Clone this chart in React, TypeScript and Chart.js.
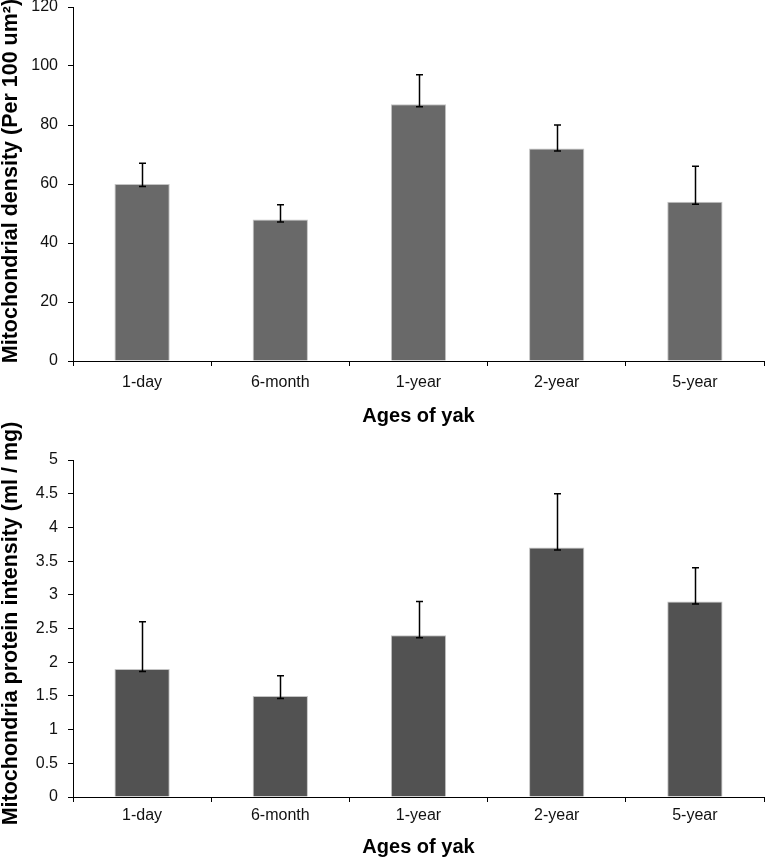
import React, { useEffect, useRef } from "react";
import { Chart, registerables } from "chart.js";

Chart.register(...registerables);

// ---- data ----
const categories = ["1-day", "6-month", "1-year", "2-year", "5-year"];
const densityValues = [60, 48, 87, 72, 54];
const densityErrors = [7, 5, 10, 8, 12];
const proteinValues = [1.9, 1.5, 2.4, 3.7, 2.9];
const proteinErrors = [0.7, 0.3, 0.5, 0.8, 0.5];
const densityAxis = { min: 0, max: 120, step: 20 };
const proteinAxis = { min: 0, max: 5, step: 0.5 };
const densityTitle = "Mitochondrial density (Per 100 um\u00B2)";
const proteinTitle = "Mitochondria protein intensity (ml / mg)";
const xTitle = "Ages of yak";

const FONT = "'Liberation Sans', Arial, Helvetica, sans-serif";

const errorBarPlugin = {
  id: "errorBars",
  afterDatasetsDraw(chart: any, _args: any, opts: any) {
    const errs: number[] = opts.errors;
    if (!errs) return;
    const meta = chart.getDatasetMeta(0);
    const yScale = chart.scales.y;
    const vals = chart.data.datasets[0].data as number[];
    const ctx = chart.ctx;
    const cap = 3.5;
    ctx.save();
    ctx.strokeStyle = "#000";
    ctx.lineWidth = 1.5;
    meta.data.forEach((bar: any, i: number) => {
      const x = Math.round(bar.x) + 0.5;
      const yTop = yScale.getPixelForValue(vals[i] + errs[i]);
      const yLow = bar.y + 2.5;
      ctx.beginPath();
      ctx.moveTo(x, yTop);
      ctx.lineTo(x, yLow);
      ctx.moveTo(x - cap, yTop);
      ctx.lineTo(x + cap, yTop);
      ctx.moveTo(x - cap, yLow);
      ctx.lineTo(x + cap, yLow);
      ctx.stroke();
    });
    ctx.restore();
  },
};

// rotated y-axis title drawn at a chosen vertical centre
const yTitlePlugin = {
  id: "yTitle",
  afterDraw(chart: any, _args: any, opts: any) {
    if (!opts.text) return;
    const ctx = chart.ctx;
    ctx.save();
    ctx.translate(opts.x, opts.centerY);
    ctx.rotate(-Math.PI / 2);
    ctx.font = `bold ${opts.size}px ${FONT}`;
    ctx.fillStyle = "#000";
    ctx.textAlign = "center";
    ctx.textBaseline = "middle";
    ctx.fillText(opts.text, 0, 0);
    ctx.restore();
  },
};

type PanelProps = {
  values: number[];
  errors: number[];
  axis: { min: number; max: number; step: number };
  yTitle: string;
  yTitleCenter: number;
  color: string;
  top: number;
  height: number;
  padTop: number;
  xHeight: number;
  tickPad: number;
  xTitlePadBottom: number;
};

function Panel(p: PanelProps) {
  const ref = useRef<HTMLCanvasElement | null>(null);
  useEffect(() => {
    if (!ref.current) return;
    const chart = new Chart(ref.current, {
      type: "bar",
      data: {
        labels: categories,
        datasets: [
          {
            data: p.values,
            backgroundColor: p.color,
            borderColor: "#c4c4c4",
            borderWidth: 1,
            categoryPercentage: 1,
            barPercentage: 0.4,
          },
        ],
      },
      plugins: [errorBarPlugin, yTitlePlugin],
      options: {
        animation: false,
        responsive: false,
        devicePixelRatio: 1,
        layout: { padding: { top: p.padTop, right: 2, left: 0, bottom: 0 } },
        plugins: {
          legend: { display: false },
          tooltip: { enabled: false },
          errorBars: { errors: p.errors },
          yTitle: { text: p.yTitle, x: 11, centerY: p.yTitleCenter, size: 21.5 },
        } as any,
        scales: {
          x: {
            grid: {
              offset: true,
              drawOnChartArea: false,
              drawTicks: true,
              tickLength: 5,
              color: "#000",
              lineWidth: 1,
            },
            border: { display: true, color: "#000", width: 1 },
            ticks: {
              color: "#111",
              font: { family: FONT, size: 16 },
              padding: p.tickPad,
              maxRotation: 0,
            },
            title: {
              display: true,
              text: xTitle,
              color: "#000",
              font: { family: FONT, size: 20, weight: "bold" },
              padding: { top: 0, bottom: p.xTitlePadBottom },
            },
            afterFit(scale: any) {
              scale.height = p.xHeight;
            },
          },
          y: {
            min: p.axis.min,
            max: p.axis.max,
            grid: {
              drawOnChartArea: false,
              drawTicks: true,
              tickLength: 5,
              color: "#000",
              lineWidth: 1,
            },
            border: { display: true, color: "#000", width: 1 },
            ticks: {
              stepSize: p.axis.step,
              color: "#111",
              font: { family: FONT, size: 16 },
              padding: 10,
              callback: (v: any) => String(Number(v)),
            },
            title: { display: false },
            afterFit(scale: any) {
              scale.width = 73;
              scale.paddingTop = 0;
              scale.paddingBottom = 0;
            },
          },
        },
      } as any,
    });
    return () => chart.destroy();
  }, []);
  return (
    <canvas
      ref={ref}
      width={766}
      height={p.height}
      style={{
        display: "block",
        position: "absolute",
        left: 0,
        top: p.top,
        width: 766,
        height: p.height,
      }}
    />
  );
}

export default function App() {
  return (
    <div
      style={{
        position: "absolute",
        left: 0,
        top: 0,
        width: 766,
        height: 859,
        background: "#fff",
      }}
    >
      <Panel
        values={densityValues}
        errors={densityErrors}
        axis={densityAxis}
        yTitle={densityTitle}
        yTitleCenter={181}
        color="#696969"
        top={0}
        height={430}
        padTop={7}
        xHeight={69}
        tickPad={7}
        xTitlePadBottom={1.5}
      />
      <Panel
        values={proteinValues}
        errors={proteinErrors}
        axis={proteinAxis}
        yTitle={proteinTitle}
        yTitleCenter={208.5}
        color="#525252"
        top={415}
        height={444}
        padTop={45}
        xHeight={62}
        tickPad={4}
        xTitlePadBottom={0}
      />
    </div>
  );
}
